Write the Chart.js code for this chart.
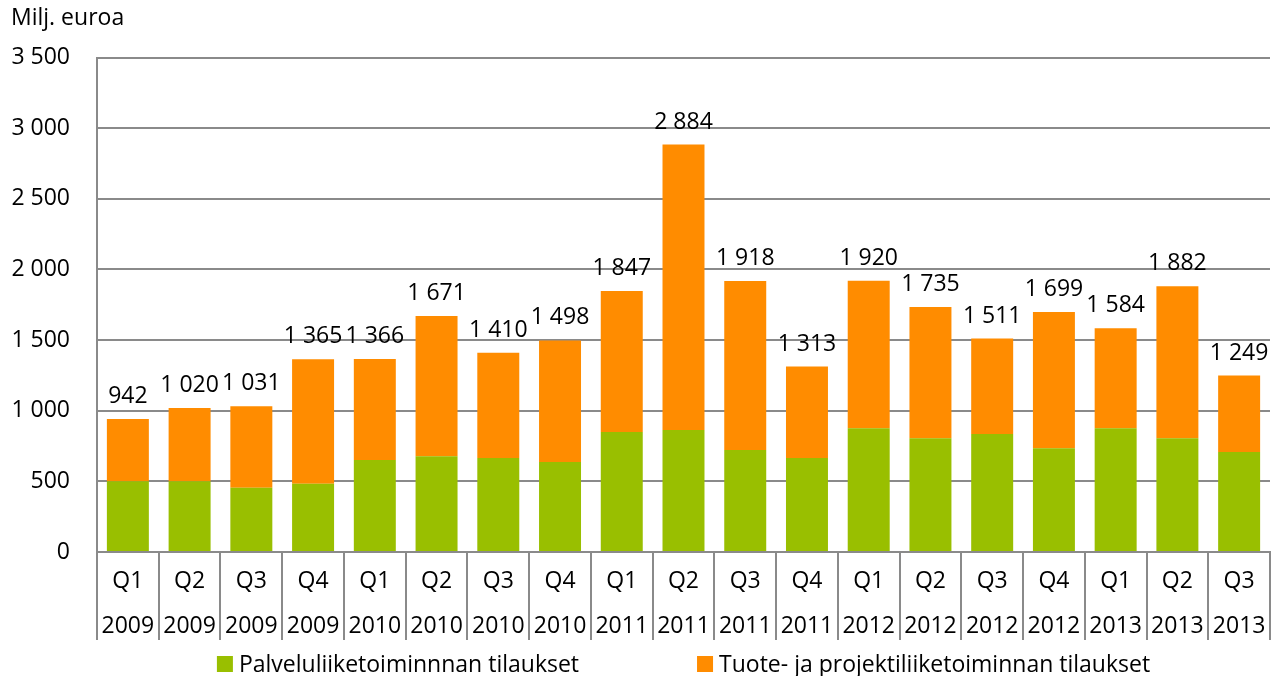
<!DOCTYPE html>
<html lang="fi">
<head>
    <meta charset="UTF-8">
    <title>Tilaukset</title>
    <script src="https://cdn.jsdelivr.net/npm/chart.js@4.4.0/dist/chart.umd.min.js"></script>
    <style>
        html, body { margin: 0; padding: 0; background: #fff; }
        .container { width: 1274px; height: 676px; }
    </style>
</head>
<body>
    <div class="container">
        <canvas id="myChart" width="1274" height="676"></canvas>
    </div>
<script>
// quarters and years (two-row x labels)
var quarters = ['Q1','Q2','Q3','Q4','Q1','Q2','Q3','Q4','Q1','Q2','Q3','Q4','Q1','Q2','Q3','Q4','Q1','Q2','Q3'];
var years = ['2009','2009','2009','2009','2010','2010','2010','2010','2011','2011','2011','2011','2012','2012','2012','2012','2013','2013','2013'];

// Milj. euroa
var palvelu = [500, 500, 455, 484, 652, 678, 666, 637, 850, 864, 722, 666, 876, 805, 836, 734, 876, 805, 708];
var tuote = [442, 520, 576, 881, 714, 993, 744, 861, 997, 2020, 1196, 647, 1044, 930, 675, 965, 708, 1077, 541];

var yTicks = [0, 500, 1000, 1500, 2000, 2500, 3000, 3500];

var FONT = "'Open Sans', sans-serif";
var GRID = '#8a8a8a';

function fmt(v) {
    return String(v).replace(/\B(?=(\d{3})+(?!\d))/g, ' ');
}

var labels = quarters.map(function(q, i) { return [q, years[i]]; });

// totals above the stacks
var totalsPlugin = {
    id: 'totals',
    afterDatasetsDraw: function(chart) {
        var ctx = chart.ctx;
        var top = chart.getDatasetMeta(1);
        ctx.save();
        ctx.font = '23px ' + FONT;
        ctx.fillStyle = '#000';
        ctx.textAlign = 'center';
        ctx.textBaseline = 'alphabetic';
        top.data.forEach(function(bar, i) {
            var total = palvelu[i] + tuote[i];
            ctx.fillText(fmt(total), bar.x, bar.y - 16);
        });
        ctx.restore();
    }
};

// legend under the axis table, spaced like the original
var legendPlugin = {
    id: 'bottomLegend',
    afterDraw: function(chart) {
        var ctx = chart.ctx;
        var area = chart.chartArea;
        var sets = chart.data.datasets;
        var box = 16, gapText = 6, gapItem = 118;
        ctx.save();
        ctx.font = '23px ' + FONT;
        ctx.textBaseline = 'middle';
        ctx.textAlign = 'left';
        var widths = sets.map(function(ds) { return box + gapText + ctx.measureText(ds.label).width; });
        var total = widths[0] + widths[1] + gapItem;
        var x = (area.left + area.right) / 2 - total / 2;
        sets.forEach(function(ds, i) {
            ctx.fillStyle = ds.backgroundColor;
            ctx.fillRect(x, 656, box, box);
            ctx.fillStyle = '#000';
            ctx.fillText(ds.label, x + box + gapText, 665);
            x += widths[i] + gapItem;
        });
        ctx.restore();
    }
};

var ctx = document.getElementById('myChart');
var myChart = new Chart(ctx, {
    type: 'bar',
    data: {
        labels: labels,
        datasets: [
            {
                label: 'Palveluliiketoiminnnan tilaukset',
                data: palvelu,
                backgroundColor: '#99bf00'
            },
            {
                label: 'Tuote- ja projektiliiketoiminnan tilaukset',
                data: tuote,
                backgroundColor: '#ff8c00'
            }
        ]
    },
    options: {
        responsive: false,
        animation: false,
        categoryPercentage: 1,
        barPercentage: 0.68,
        layout: {
            padding: { left: 11, right: 4, top: 0, bottom: 27 }
        },
        plugins: {
            legend: { display: false },
            tooltip: { enabled: false },
            title: {
                display: true,
                text: 'Milj. euroa',
                align: 'start',
                color: '#000',
                font: { family: FONT, size: 23, weight: 'normal' },
                padding: { top: 5, bottom: 25 }
            }
        },
        scales: {
            x: {
                stacked: true,
                afterFit: function(scale) { scale.height = 97; },
                grid: {
                    offset: true,
                    drawOnChartArea: false,
                    tickLength: 88,
                    color: GRID,
                    lineWidth: 2
                },
                border: { color: GRID, width: 2 },
                ticks: {
                    color: '#000',
                    autoSkip: false,
                    maxRotation: 0,
                    padding: -81,
                    font: { family: FONT, size: 23, lineHeight: '45px' }
                }
            },
            y: {
                stacked: true,
                min: 0,
                max: 3500,
                afterFit: function(scale) { scale.width = 86; },
                afterBuildTicks: function(axis) {
                    axis.ticks = yTicks.map(function(v) { return { value: v }; });
                },
                grid: {
                    color: GRID,
                    lineWidth: 2,
                    drawTicks: false
                },
                border: { color: GRID, width: 2 },
                ticks: {
                    color: '#000',
                    padding: 27,
                    font: { family: FONT, size: 23 },
                    callback: function(v) { return fmt(v); }
                }
            }
        }
    },
    plugins: [totalsPlugin, legendPlugin]
});
</script>
</body>
</html>
